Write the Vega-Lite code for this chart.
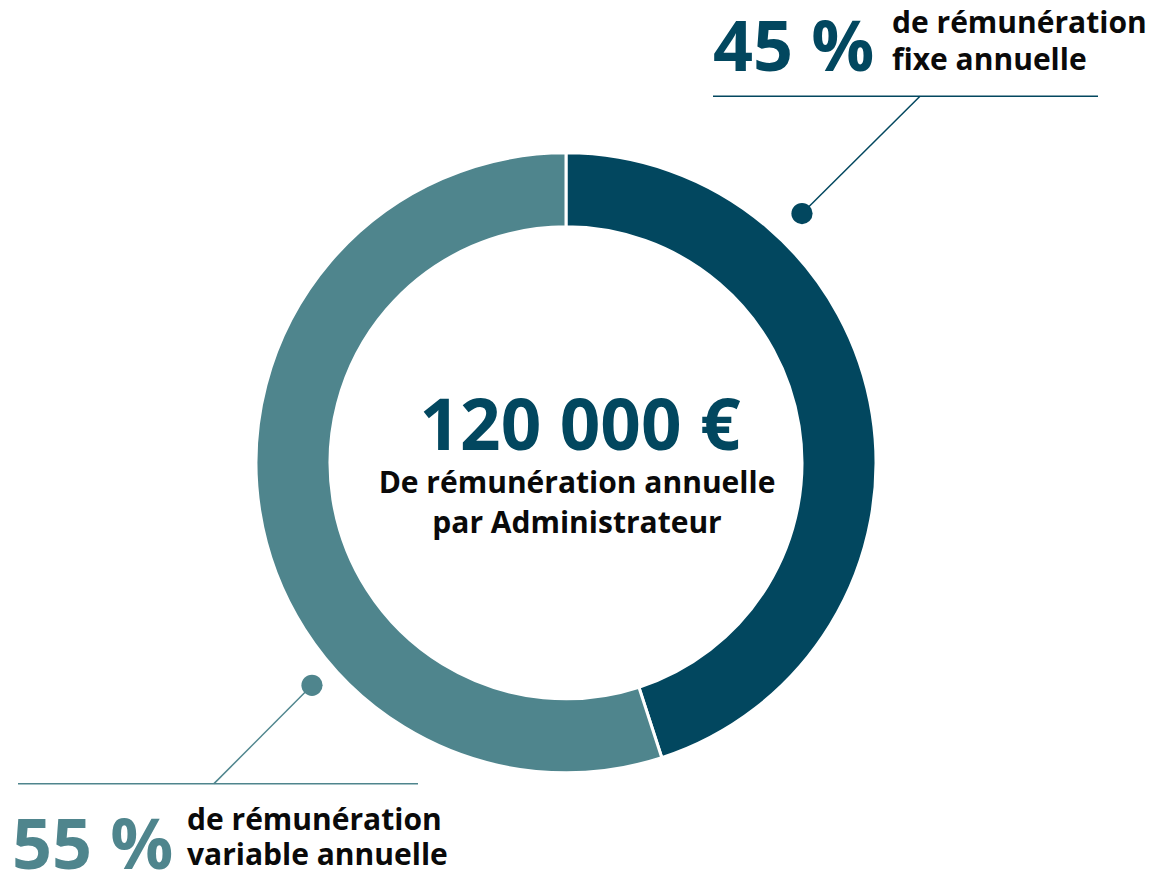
{
  "$schema": "https://vega.github.io/schema/vega-lite/v6.json",
  "width": 1156,
  "height": 883,
  "autosize": {"type": "fit", "contains": "padding"},
  "padding": 0,
  "background": "white",
  "config": {"view": {"stroke": null}},
  "datasets": {
    "parts": [
      {"part": "fixe", "share": 45, "rank": 1},
      {"part": "variable", "share": 55, "rank": 2}
    ],
    "leaders": [
      {"part": "fixe", "x": 713, "y": 97, "x2": 1098, "y2": 97},
      {"part": "fixe", "x": 802, "y": 215, "x2": 920, "y2": 97},
      {"part": "variable", "x": 18, "y": 789, "x2": 418, "y2": 789},
      {"part": "variable", "x": 312, "y": 690, "x2": 214, "y2": 789}
    ],
    "dots": [
      {"part": "fixe", "x": 802, "y": 215},
      {"part": "variable", "x": 312, "y": 690}
    ],
    "pcts": [
      {"part": "fixe", "label": "45 %", "x": 713, "y": 71},
      {"part": "variable", "label": "55 %", "x": 12, "y": 875}
    ],
    "descs": [
      {"label": "de rémunération", "x": 892, "y": 33},
      {"label": "fixe annuelle", "x": 892, "y": 70},
      {"label": "de rémunération", "x": 187, "y": 836},
      {"label": "variable annuelle", "x": 187, "y": 871}
    ],
    "center": [
      {"label": "120 000 €", "x": 580, "y": 453}
    ],
    "centerSub": [
      {"label": "De rémunération annuelle", "x": 577, "y": 496},
      {"label": "par Administrateur", "x": 577, "y": 537}
    ]
  },
  "layer": [
    {
      "data": {"name": "parts"},
      "mark": {"type": "arc", "outerRadius": 310, "innerRadius": 236, "stroke": "white", "strokeWidth": 3},
      "encoding": {
        "theta": {"field": "share", "type": "quantitative", "stack": true},
        "order": {"field": "rank", "type": "quantitative"},
        "color": {"field": "part", "type": "nominal", "scale": {"domain": ["fixe", "variable"], "range": ["#02475F", "#4F858D"]}, "legend": null},
        "x": {"datum": 566, "type": "quantitative", "scale": {"domain": [0, 1156], "nice": false, "zero": false}, "axis": null},
        "y": {"datum": 466, "type": "quantitative", "scale": {"domain": [0, 883], "nice": false, "zero": false, "reverse": true}, "axis": null}
      }
    },
    {
      "data": {"name": "leaders"},
      "mark": {"type": "rule", "strokeWidth": 1.5},
      "encoding": {
        "x": {"field": "x", "type": "quantitative"},
        "y": {"field": "y", "type": "quantitative"},
        "x2": {"field": "x2"},
        "y2": {"field": "y2"},
        "color": {"field": "part", "type": "nominal", "legend": null}
      }
    },
    {
      "data": {"name": "dots"},
      "mark": {"type": "circle", "size": 450, "opacity": 1},
      "encoding": {
        "x": {"field": "x", "type": "quantitative"},
        "y": {"field": "y", "type": "quantitative"},
        "color": {"field": "part", "type": "nominal", "legend": null}
      }
    },
    {
      "data": {"name": "pcts"},
      "mark": {"type": "text", "font": "Open Sans", "fontWeight": "bold", "fontSize": 70, "align": "left", "baseline": "alphabetic"},
      "encoding": {
        "x": {"field": "x", "type": "quantitative"},
        "y": {"field": "y", "type": "quantitative"},
        "text": {"field": "label"},
        "color": {"field": "part", "type": "nominal", "legend": null}
      }
    },
    {
      "data": {"name": "descs"},
      "mark": {"type": "text", "font": "Open Sans", "fontWeight": "bold", "fontSize": 30, "align": "left", "baseline": "alphabetic", "color": "#0a0a0a"},
      "encoding": {
        "x": {"field": "x", "type": "quantitative"},
        "y": {"field": "y", "type": "quantitative"},
        "text": {"field": "label"}
      }
    },
    {
      "data": {"name": "center"},
      "mark": {"type": "text", "font": "Open Sans", "fontWeight": "bold", "fontSize": 71, "align": "center", "baseline": "alphabetic", "color": "#02475F"},
      "encoding": {
        "x": {"field": "x", "type": "quantitative"},
        "y": {"field": "y", "type": "quantitative"},
        "text": {"field": "label"}
      }
    },
    {
      "data": {"name": "centerSub"},
      "mark": {"type": "text", "font": "Open Sans", "fontWeight": "bold", "fontSize": 30, "align": "center", "baseline": "alphabetic", "color": "#0a0a0a"},
      "encoding": {
        "x": {"field": "x", "type": "quantitative"},
        "y": {"field": "y", "type": "quantitative"},
        "text": {"field": "label"}
      }
    }
  ]
}
